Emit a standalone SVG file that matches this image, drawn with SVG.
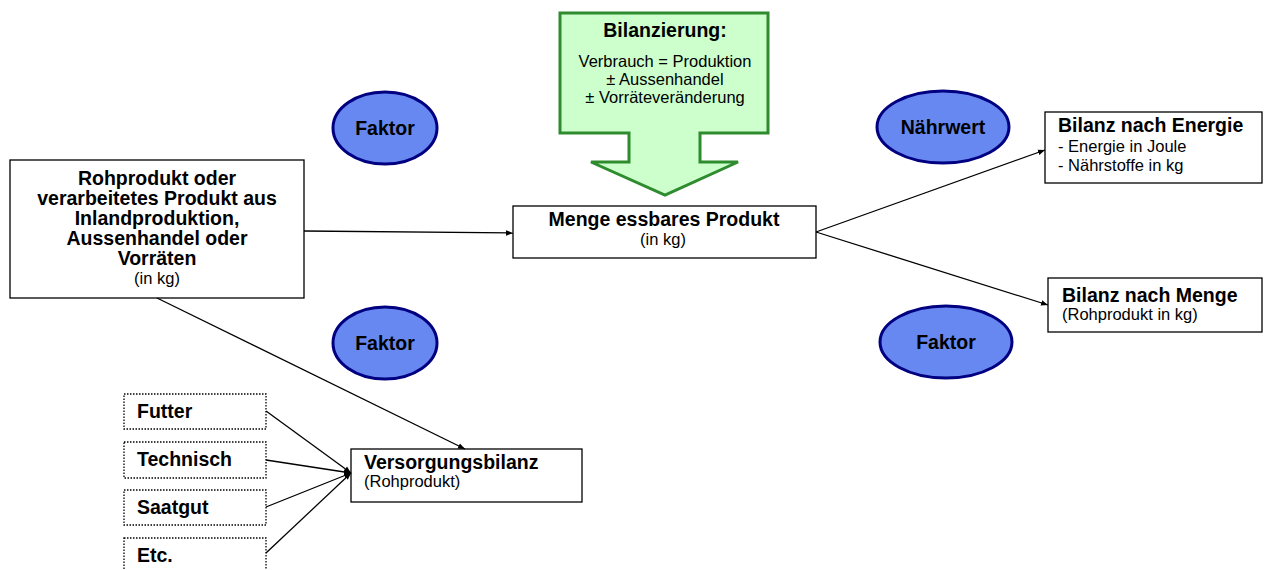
<svg xmlns="http://www.w3.org/2000/svg" width="1266" height="570" viewBox="0 0 1266 570">
<style>
text{font-family:"Liberation Sans",Arial,sans-serif;fill:#000}
.b{font-weight:bold;font-size:19.5px}
.s{font-size:16.5px}
.m{font-size:16.5px}
.box{fill:#fff;stroke:#000;stroke-width:1.3}
.dot{fill:#fff;stroke:#000;stroke-width:1.3;stroke-dasharray:1.5 1.5}
.ell{fill:#6688F0;stroke:#000080;stroke-width:3}
.c{stroke:#000;stroke-width:1.3;fill:none;marker-end:url(#ah)}
</style>
<defs>
<marker id="ah" viewBox="0 0 10 10" refX="10" refY="5" markerWidth="7" markerHeight="7" markerUnits="userSpaceOnUse" orient="auto">
<path d="M0,1 L10,5 L0,9 Z" fill="#000"/>
</marker>
</defs>
<g id="bilanzierung">
<path d="M560,13 H768 V133 H700 V162 H738 L665,195 L591,162 H629 V133 H560 Z" fill="#CCFFCC" stroke="#2E8B2E" stroke-width="3"/>
<text x="665" y="37" text-anchor="middle" class="b">Bilanzierung:</text>
<text x="665" y="67" text-anchor="middle" class="m">Verbrauch = Produktion</text>
<text x="665" y="85" text-anchor="middle" class="m">± Aussenhandel</text>
<text x="665" y="103" text-anchor="middle" class="m">± Vorräteveränderung</text>
</g>
<g id="rohprodukt">
<rect x="10" y="160" width="294" height="138" class="box"/>
<text x="157" y="185" text-anchor="middle" class="b">Rohprodukt oder</text>
<text x="157" y="205" text-anchor="middle" class="b">verarbeitetes Produkt aus</text>
<text x="157" y="225" text-anchor="middle" class="b">Inlandproduktion,</text>
<text x="157" y="245" text-anchor="middle" class="b">Aussenhandel oder</text>
<text x="157" y="265" text-anchor="middle" class="b">Vorräten</text>
<text x="157" y="284" text-anchor="middle" class="s">(in kg)</text>
</g>
<g id="menge">
<rect x="513" y="206" width="303" height="52" class="box"/>
<text x="664" y="226" text-anchor="middle" class="b">Menge essbares Produkt</text>
<text x="663" y="245" text-anchor="middle" class="s">(in kg)</text>
</g>
<g id="energie">
<rect x="1045" y="112" width="217" height="71" class="box"/>
<text x="1058" y="132" class="b">Bilanz nach Energie</text>
<text x="1058" y="152" class="s">- Energie in Joule</text>
<text x="1058" y="171" class="s">- Nährstoffe in kg</text>
</g>
<g id="mengebilanz">
<rect x="1048" y="278" width="214" height="54" class="box"/>
<text x="1062" y="302" class="b">Bilanz nach Menge</text>
<text x="1062" y="320" class="s">(Rohprodukt in kg)</text>
</g>
<g id="versorgung">
<rect x="351" y="449" width="231" height="53" class="box"/>
<text x="364" y="469" class="b">Versorgungsbilanz</text>
<text x="364" y="487" class="s">(Rohprodukt)</text>
</g>
<g id="futter">
<rect x="124" y="394" width="142" height="35" class="dot"/>
<text x="137" y="418" class="b">Futter</text>
</g>
<g id="technisch">
<rect x="124" y="442" width="142" height="36" class="dot"/>
<text x="137" y="466" class="b">Technisch</text>
</g>
<g id="saatgut">
<rect x="124" y="490" width="142" height="35" class="dot"/>
<text x="137" y="514" class="b">Saatgut</text>
</g>
<g id="etc">
<rect x="124" y="538" width="142" height="40" class="dot"/>
<text x="137" y="562" class="b">Etc.</text>
</g>
<g id="faktor1">
<ellipse cx="385" cy="128" rx="52" ry="36" class="ell"/>
<text x="385" y="135" text-anchor="middle" class="b">Faktor</text>
</g>
<g id="faktor2">
<ellipse cx="385" cy="343" rx="52" ry="36" class="ell"/>
<text x="385" y="350" text-anchor="middle" class="b">Faktor</text>
</g>
<g id="naehrwert">
<ellipse cx="943" cy="127" rx="66" ry="36" class="ell"/>
<text x="943" y="134" text-anchor="middle" class="b">Nährwert</text>
</g>
<g id="faktor3">
<ellipse cx="946" cy="342" rx="66" ry="36" class="ell"/>
<text x="946" y="349" text-anchor="middle" class="b">Faktor</text>
</g>
<g id="connectors">
<line x1="304" y1="231" x2="513" y2="233" class="c"/>
<line x1="157" y1="298" x2="465" y2="449" class="c"/>
<line x1="816" y1="232" x2="1045" y2="150" class="c"/>
<line x1="816" y1="232" x2="1048" y2="305" class="c"/>
<line x1="266" y1="411" x2="351" y2="473" class="c"/>
<line x1="266" y1="460" x2="351" y2="473" class="c"/>
<line x1="266" y1="507" x2="351" y2="473" class="c"/>
<line x1="266" y1="553" x2="351" y2="473" class="c"/>
</g>
</svg>
